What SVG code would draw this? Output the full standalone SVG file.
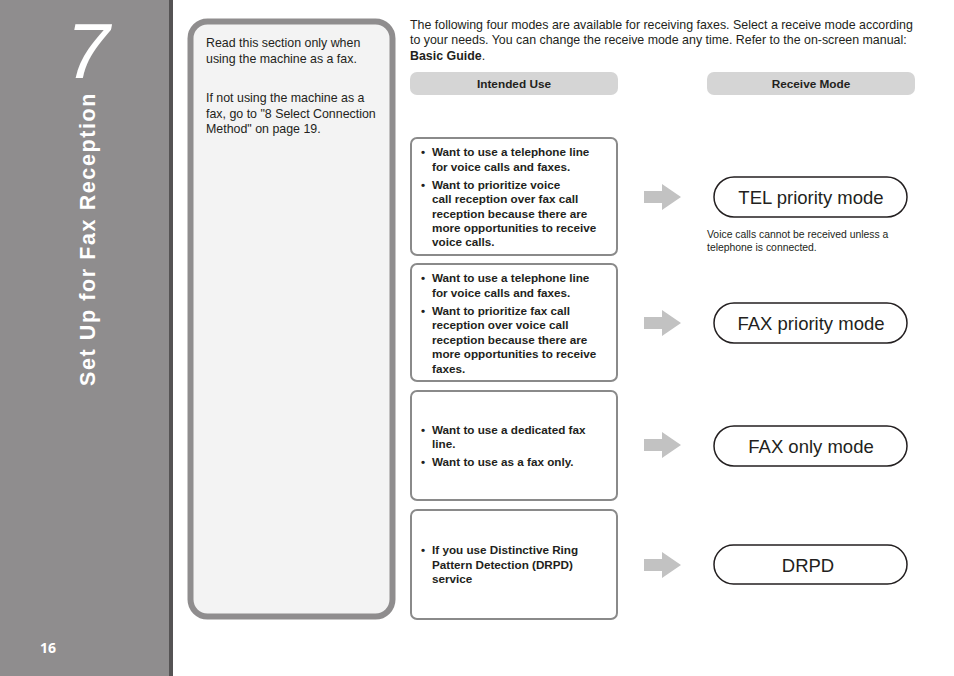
<svg xmlns="http://www.w3.org/2000/svg" width="954" height="676" viewBox="0 0 954 676">
<style>
text{font-family:"Liberation Sans",Arial,sans-serif;}
.side{fill:#8f8d8e;}
.body{font-size:12.4px;fill:#231f20;}
.hdr{fill:#d5d5d5;}
.hdrt{font-size:11.8px;font-weight:bold;fill:#231f20;text-anchor:middle;}
.box{fill:#fff;stroke:#8a8a8a;stroke-width:2;}
.bt{font-size:11.7px;font-weight:bold;fill:#231f20;}
.pill{fill:#fff;stroke:#231f20;stroke-width:1.5;}
.pt{font-size:18.5px;fill:#231f20;text-anchor:middle;}
.arr{fill:#c2c2c2;}
.note{font-size:10.4px;fill:#231f20;}
</style>
<rect x="0" y="0" width="954" height="676" fill="#fff"/>
<g id="sidebar">
<rect class="side" x="0" y="0" width="170" height="676"/>
<rect x="169" y="0" width="4" height="676" fill="#555354"/>
<text x="88" y="78" font-size="78" font-style="italic" fill="#fff" text-anchor="middle">7</text>
<text transform="translate(95,239) rotate(-90)" font-size="21.5" font-weight="bold" fill="#fff" text-anchor="middle" letter-spacing="1.6">Set Up for Fax Reception</text>
<text x="48" y="653" font-size="14" font-weight="bold" fill="#fff" text-anchor="middle" style="font-family:'Open Sans','Liberation Sans',sans-serif">16</text>
</g>
<g id="note-panel">
<rect x="190.5" y="21.5" width="202" height="595" rx="17" fill="#f3f3f3" stroke="#8f8d8e" stroke-width="6"/>
<text class="body" x="206" y="47">Read this section only when</text>
<text class="body" x="206" y="63">using the machine as a fax.</text>
<text class="body" x="206" y="102">If not using the machine as a</text>
<text class="body" x="206" y="118">fax, go to "8 Select Connection</text>
<text class="body" x="206" y="133">Method" on page 19.</text>
</g>
<g id="intro">
<text class="body" x="410" y="29">The following four modes are available for receiving faxes. Select a receive mode according</text>
<text class="body" x="410" y="44">to your needs. You can change the receive mode any time. Refer to the on-screen manual:</text>
<text class="body" x="410" y="60"><tspan font-weight="bold">Basic Guide</tspan>.</text>
</g>
<g id="header-use">
<rect class="hdr" x="410" y="72" width="208" height="23" rx="7"/>
<text class="hdrt" x="514" y="88">Intended Use</text>
</g>
<g id="header-mode">
<rect class="hdr" x="707" y="72" width="208" height="23" rx="7"/>
<text class="hdrt" x="811" y="88">Receive Mode</text>
</g>
<g id="use1">
<rect class="box" x="411" y="138" width="206" height="117" rx="6"/>
<text class="bt" x="421" y="156">•</text><text class="bt" x="432" y="156">Want to use a telephone line</text>
<text class="bt" x="432" y="171">for voice calls and faxes.</text>
<text class="bt" x="421" y="189">•</text><text class="bt" x="432" y="189">Want to prioritize voice</text>
<text class="bt" x="432" y="203">call reception over fax call</text>
<text class="bt" x="432" y="218">reception because there are</text>
<text class="bt" x="432" y="232">more opportunities to receive</text>
<text class="bt" x="432" y="246">voice calls.</text>
</g>
<g id="use2">
<rect class="box" x="411" y="264" width="206" height="117" rx="6"/>
<text class="bt" x="421" y="282">•</text><text class="bt" x="432" y="282">Want to use a telephone line</text>
<text class="bt" x="432" y="297">for voice calls and faxes.</text>
<text class="bt" x="421" y="315">•</text><text class="bt" x="432" y="315">Want to prioritize fax call</text>
<text class="bt" x="432" y="329">reception over voice call</text>
<text class="bt" x="432" y="344">reception because there are</text>
<text class="bt" x="432" y="358">more opportunities to receive</text>
<text class="bt" x="432" y="373">faxes.</text>
</g>
<g id="use3">
<rect class="box" x="411" y="391" width="206" height="109" rx="6"/>
<text class="bt" x="421" y="434">•</text><text class="bt" x="432" y="434">Want to use a dedicated fax</text>
<text class="bt" x="432" y="448">line.</text>
<text class="bt" x="421" y="466">•</text><text class="bt" x="432" y="466">Want to use as a fax only.</text>
</g>
<g id="use4">
<rect class="box" x="411" y="510" width="206" height="109" rx="6"/>
<text class="bt" x="421" y="554">•</text><text class="bt" x="432" y="554">If you use Distinctive Ring</text>
<text class="bt" x="432" y="569">Pattern Detection (DRPD)</text>
<text class="bt" x="432" y="583">service</text>
</g>
<g id="connectors">
<path class="arr" d="M644,191 H662 V184 L681,197 L662,210 V203 H644 Z"/>
<path class="arr" d="M644,317 H662 V310 L681,323 L662,336 V329 H644 Z"/>
<path class="arr" d="M644,439 H662 V432 L681,445 L662,458 V451 H644 Z"/>
<path class="arr" d="M644,559 H662 V552 L681,565 L662,578 V571 H644 Z"/>
</g>
<g id="mode-tel">
<rect class="pill" x="714" y="177" width="193" height="40" rx="20"/>
<text class="pt" x="811" y="204">TEL priority mode</text>
<text class="note" x="707" y="238">Voice calls cannot be received unless a</text>
<text class="note" x="707" y="251">telephone is connected.</text>
</g>
<g id="mode-fax-priority">
<rect class="pill" x="714" y="303" width="193" height="40" rx="20"/>
<text class="pt" x="811" y="330">FAX priority mode</text>
</g>
<g id="mode-fax-only">
<rect class="pill" x="714" y="426" width="193" height="40" rx="20"/>
<text class="pt" x="811" y="453">FAX only mode</text>
</g>
<g id="mode-drpd">
<rect class="pill" x="714" y="545" width="193" height="39" rx="19.5"/>
<text class="pt" x="808" y="572">DRPD</text>
</g>
</svg>
